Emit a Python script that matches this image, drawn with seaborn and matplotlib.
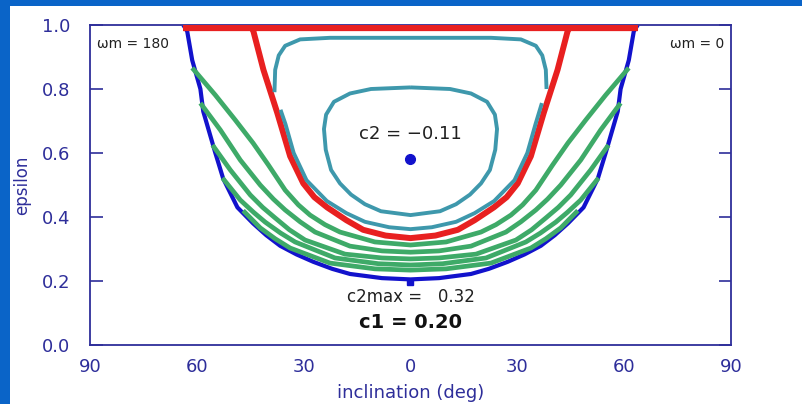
import pandas as pd
import seaborn as sns
import matplotlib.pyplot as plt
from matplotlib.patches import Rectangle

# values (inclination in deg, epsilon)
blue_incl = [-63.8, -62.7, -61.3, -59.0, -58.2, -54.8, -52.6, -48.6, -44.2, -40.5, -36.6, -32.0, -27.3,
             -22.0, -17.0, -8.0, 0.0, 8.0, 17.0, 22.0, 27.3, 32.0, 36.6, 40.5, 44.2, 48.6, 52.6, 54.8,
             58.2, 59.0, 61.3, 62.7, 63.8]
blue_eps = [1.0, 0.98, 0.89, 0.80, 0.73, 0.60, 0.52, 0.43, 0.38, 0.343, 0.31, 0.283, 0.26,
            0.238, 0.222, 0.209, 0.205, 0.209, 0.222, 0.238, 0.26, 0.283, 0.31, 0.343, 0.38, 0.43, 0.52, 0.60,
            0.73, 0.80, 0.89, 0.98, 1.0]

red_incl = [-45.0, -44.1, -41.3, -37.4, -33.8, -30.1, -27.0, -23.4, -18.0, -13.3, -7.0, 0.0,
            7.0, 13.3, 18.0, 23.4, 27.0, 30.1, 33.8, 37.4, 41.3, 44.1, 45.0]
red_eps = [1.0, 0.98, 0.86, 0.725, 0.59, 0.505, 0.462, 0.43, 0.39, 0.36, 0.342, 0.334,
           0.342, 0.36, 0.39, 0.43, 0.462, 0.505, 0.59, 0.725, 0.86, 0.98, 1.0]
red_top_incl = [-64.0, 64.0]
red_top_eps = [0.99, 0.99]

green_incl = [
    [-61.3, -54.8, -49.2, -44.2, -39.9, -35.2, -31.5, -28.2, -24.0, -19.8, -10.0, 0.0,
     10.0, 19.8, 24.0, 28.2, 31.5, 35.2, 39.9, 44.2, 49.2, 54.8, 61.3],
    [-59.0, -53.4, -47.8, -42.2, -38.5, -35.2, -31.0, -26.8, -17.0, -8.0, 0.0,
     8.0, 17.0, 26.8, 31.0, 35.2, 38.5, 42.2, 47.8, 53.4, 59.0],
    [-55.6, -50.6, -45.0, -41.5, -38.0, -34.0, -29.6, -18.4, -8.0, 0.0,
     8.0, 18.4, 29.6, 34.0, 38.0, 41.5, 45.0, 50.6, 55.6],
    [-52.8, -47.8, -44.0, -40.8, -36.5, -32.4, -21.2, -9.0, 0.0,
     9.0, 21.2, 32.4, 36.5, 40.8, 44.0, 47.8, 52.8],
    [-47.0, -42.2, -38.0, -33.8, -22.6, -10.0, 0.0, 10.0, 22.6, 33.8, 38.0, 42.2, 47.0],
]
green_eps = [
    [0.866, 0.781, 0.703, 0.631, 0.5625, 0.484, 0.438, 0.406, 0.376, 0.353, 0.322, 0.3125,
     0.322, 0.353, 0.376, 0.406, 0.438, 0.484, 0.5625, 0.631, 0.703, 0.781, 0.866],
    [0.756, 0.672, 0.578, 0.50, 0.456, 0.422, 0.385, 0.353, 0.309, 0.294, 0.29,
     0.294, 0.309, 0.353, 0.385, 0.422, 0.456, 0.50, 0.578, 0.672, 0.756],
    [0.625, 0.547, 0.469, 0.43, 0.397, 0.36, 0.328, 0.284, 0.272, 0.269,
     0.272, 0.284, 0.328, 0.36, 0.397, 0.43, 0.469, 0.547, 0.625],
    [0.522, 0.453, 0.414, 0.384, 0.35, 0.322, 0.272, 0.254, 0.25,
     0.254, 0.272, 0.322, 0.35, 0.384, 0.414, 0.453, 0.522],
    [0.42, 0.366, 0.332, 0.303, 0.256, 0.238, 0.234, 0.238, 0.256, 0.303, 0.332, 0.366, 0.42],
]

# teal contour (c2 level) drawn in two pieces because of gaps in the arms
teal_arc_incl = [-38.2, -38.0, -37.0, -35.2, -31.0, -22.6, 0.0, 22.6, 31.0, 35.2, 37.0, 38.0, 38.2]
teal_arc_eps = [0.79, 0.86, 0.905, 0.935, 0.955, 0.96, 0.96, 0.96, 0.955, 0.935, 0.905, 0.86, 0.80]
teal_low_incl = [-36.5, -35.1, -32.8, -29.2, -23.5, -18.0, -12.8, -6.0, 0.0,
                 6.0, 12.8, 18.0, 23.5, 29.2, 32.8, 35.1, 36.9]
teal_low_eps = [0.735, 0.69, 0.60, 0.515, 0.45, 0.412, 0.385, 0.368, 0.362,
                0.368, 0.385, 0.412, 0.45, 0.515, 0.60, 0.69, 0.756]
teal_loop_incl = [0.0, 11.1, 17.0, 21.5, 23.7, 24.3, 23.8, 22.3, 19.8, 16.7, 12.8, 8.3, 0.0,
                  -8.3, -12.8, -16.7, -19.8, -22.3, -23.8, -24.3, -23.7, -21.5, -17.0, -11.1, 0.0]
teal_loop_eps = [0.805, 0.80, 0.786, 0.76, 0.72, 0.675, 0.61, 0.547, 0.505, 0.47, 0.44, 0.418, 0.406,
                 0.418, 0.44, 0.47, 0.505, 0.547, 0.61, 0.675, 0.72, 0.76, 0.786, 0.80, 0.805]

center_incl, center_eps = 0.0, 0.58
emin_incl, emin_eps = 0.0, 0.197

xticks = [-90, -60, -30, 0, 30, 60, 90]
xtick_labels = ["90", "60", "30", "0", "30", "60", "90"]
yticks = [0.0, 0.2, 0.4, 0.6, 0.8, 1.0]
ytick_labels = ["0.0", "0.2", "0.4", "0.6", "0.8", "1.0"]

navy = "#2E2E9A"
blue = "#1212CC"
red = "#E82020"
green = "#3EAA68"
teal = "#3E98AC"

sns.set_style("white")
plt.rcParams["font.family"] = ["DejaVu Sans"]

fig = plt.figure(figsize=(8.03, 4.04), dpi=100, facecolor="#0A64C8")
panel = Rectangle((10 / 803, 0), 1, 1 - 6 / 404, transform=fig.transFigure,
                  facecolor="white", edgecolor="none", zorder=-10)
fig.patches.append(panel)
ax = fig.add_axes([90 / 803, 59 / 404, 641 / 803, 320 / 404])
ax.set_zorder(5)
ax.set_facecolor("white")


def curve(x, y, color, lw, z):
    d = pd.DataFrame({"incl": x, "eps": y})
    sns.lineplot(data=d, x="incl", y="eps", sort=False, estimator=None, color=color,
                 linewidth=lw, ax=ax, zorder=z, solid_capstyle="butt", solid_joinstyle="round")


curve(blue_incl, blue_eps, blue, 3.0, 2)
for gx, gy in zip(green_incl, green_eps):
    curve(gx, gy, green, 3.4, 3)
curve(red_incl, red_eps, red, 4.3, 4)
curve(red_top_incl, red_top_eps, red, 4.5, 4)
curve(teal_arc_incl, teal_arc_eps, teal, 2.8, 5)
curve(teal_low_incl, teal_low_eps, teal, 2.8, 5)
curve(teal_loop_incl, teal_loop_eps, teal, 2.8, 5)

ax.plot([center_incl], [center_eps], "o", color=blue, markersize=7, zorder=6)
ax.plot([emin_incl], [emin_eps], "s", color=blue, markersize=4, zorder=6)

ax.set_xlim(-90, 90)
ax.set_ylim(0, 1.0)
ax.set_xticks(xticks)
ax.set_xticklabels(xtick_labels)
ax.set_yticks(yticks)
ax.set_yticklabels(ytick_labels)
ax.tick_params(axis="x", direction="in", length=5, width=1.2, colors=navy, labelsize=13, pad=9)
ax.tick_params(axis="y", direction="in", length=9, width=1.2, colors=navy, labelsize=13,
               right=True, left=True, pad=14)
for s in ax.spines.values():
    s.set_color(navy)
    s.set_linewidth(1.3)
    s.set_visible(True)

ax.set_xlabel("inclination (deg)", color=navy, fontsize=13, labelpad=6)
ax.set_ylabel("epsilon", color=navy, fontsize=12, labelpad=8)

ax.text(-88, 0.94, "ωm = 180", fontsize=10, color="#202020", va="center", ha="left")
ax.text(88, 0.94, "ωm = 0", fontsize=10, color="#202020", va="center", ha="right")
ax.text(0, 0.66, "c2 = \u22120.11", fontsize=13, color="#202020", ha="center", va="center")
ax.text(0, 0.15, "c2max =   0.32", fontsize=12, color="#202020", ha="center", va="center")
ax.text(0, 0.07, "c1 = 0.20", fontsize=14, fontweight="bold", color="#111111",
        ha="center", va="center")

plt.savefig("out.png", dpi=100, facecolor=fig.get_facecolor())
